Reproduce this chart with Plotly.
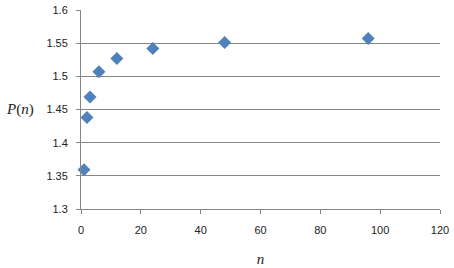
import plotly.graph_objects as go

n_values = [1, 2, 3, 6, 12, 24, 48, 96]
p_values = [1.359, 1.438, 1.469, 1.507, 1.527, 1.542, 1.551, 1.557]
x_ticks = [0, 20, 40, 60, 80, 100, 120]
y_ticks = [1.3, 1.35, 1.4, 1.45, 1.5, 1.55, 1.6]
y_tick_labels = ["1.3", "1.35", "1.4", "1.45", "1.5", "1.55", "1.6"]

fig = go.Figure()
fig.add_trace(go.Scatter(
    x=n_values, y=p_values, mode="markers",
    marker=dict(symbol="diamond", size=10, color="#4F81BD",
                line=dict(width=0)),
    showlegend=False, cliponaxis=False,
))

axis_common = dict(showline=True, linecolor="#868686", linewidth=1,
                   ticks="outside", tickcolor="#868686", ticklen=4,
                   tickfont=dict(family="Liberation Sans, Arial", size=11, color="#222"),
                   zeroline=False, automargin=False)

fig.update_xaxes(range=[0, 120], tickvals=x_ticks, showgrid=False,
                 ticklabelstandoff=7,
                 title=dict(text="<i>n</i>", font=dict(family="Liberation Serif", size=15, color="#222"),
                            standoff=18),
                 **axis_common)
fig.update_yaxes(range=[1.3, 1.6], tickvals=y_ticks, ticktext=y_tick_labels,
                 showgrid=True, gridcolor="#868686", gridwidth=1,
                 ticklabelstandoff=6,
                 **axis_common)

fig.add_annotation(text="<i>P</i>(<i>n</i>)", xref="paper", yref="paper",
                   x=-0.17, y=0.5, xanchor="center", yanchor="middle",
                   showarrow=False,
                   font=dict(family="Liberation Serif", size=15, color="#222"))

fig.update_layout(width=454, height=268,
                  margin=dict(l=81, r=14, t=10, b=59),
                  plot_bgcolor="white", paper_bgcolor="white")

fig.write_html("out.html")
